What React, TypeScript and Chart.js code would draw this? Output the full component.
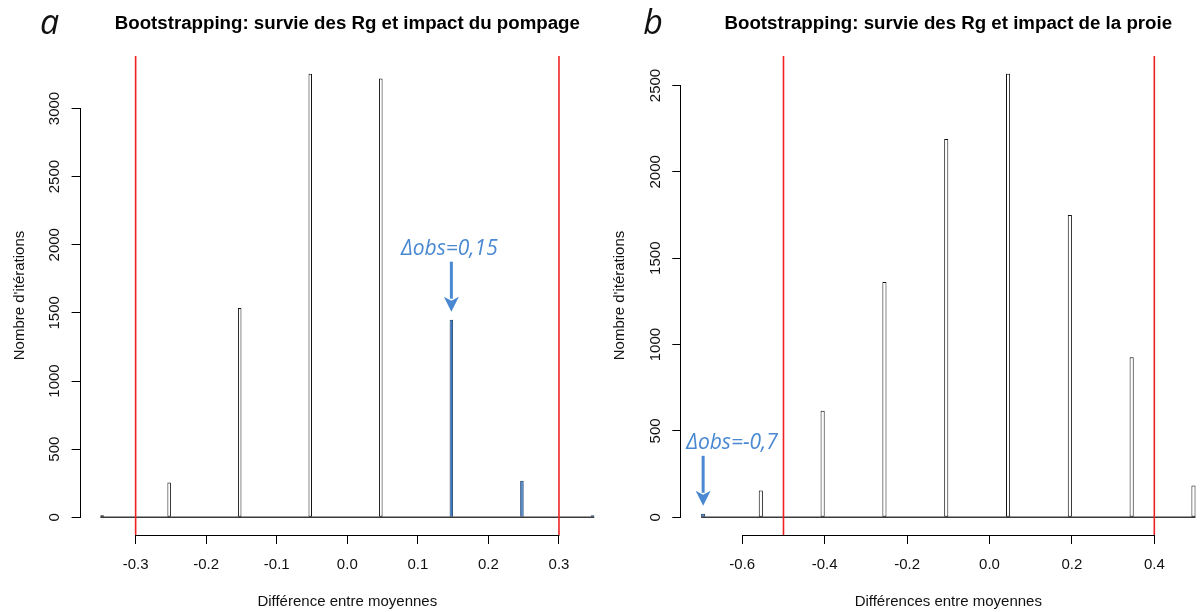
import React, { useEffect, useRef } from "react";
import { Chart, registerables } from "chart.js";

Chart.register(...registerables);
Chart.defaults.font.family = '"Liberation Sans", Arial, sans-serif';
Chart.defaults.color = "#111";

// ---------- Panel a data ----------
const titleA = "Bootstrapping: survie des Rg et impact du pompage";
const xTitleA = "Différence entre moyennes";
const yTitleA = "Nombre d'itérations";
const binLowerA = [-0.35, -0.255, -0.155, -0.055, 0.045, 0.145, 0.245, 0.345];
const countsA = [15, 255, 1535, 3255, 3220, 1450, 268, 15];
const highlightA = [false, false, false, false, false, true, true, true];
const binWidthA = 0.005;
const rangeA = [-0.35, 0.35];
const cutoffsA = [-0.3, 0.3];
const xTicksA = [-0.3, -0.2, -0.1, 0.0, 0.1, 0.2, 0.3];
const yTicksA = [0, 500, 1000, 1500, 2000, 2500, 3000];
const obsTextA = "Δobs=0,15";
const obsBinA = 5;

// ---------- Panel b data ----------
const titleB = "Bootstrapping: survie des Rg et impact de la proie";
const xTitleB = "Différences entre moyennes";
const yTitleB = "Nombre d'itérations";
const binLowerB = [-0.7, -0.56, -0.41, -0.26, -0.11, 0.04, 0.19, 0.34, 0.49];
const countsB = [20, 155, 617, 1362, 2190, 2568, 1750, 926, 184];
const highlightB = [true, false, false, false, false, false, false, false, false];
const binWidthB = 0.01;
const rangeB = [-0.7, 0.5];
const cutoffsB = [-0.5, 0.4];
const xTicksB = [-0.6, -0.4, -0.2, 0.0, 0.2, 0.4];
const yTicksB = [0, 500, 1000, 1500, 2000, 2500];
const obsTextB = "Δobs=-0,7";
const obsBinB = 0;

// ---------- styles / layout ----------
const BAR_BLUE = "#3a78c4";
const BAR_BLUE_EDGE = "#1f3f66";
const NOTE_BLUE = "#4a89d2";
const CUT_RED = "#ee2222";
const CANVAS_H = 612;
const PLOT_TOP = 56;
const PLOT_BOTTOM = 535;

type Panel = {
  letter: string;
  title: string;
  xTitle: string;
  yTitle: string;
  binLower: number[];
  counts: number[];
  highlight: boolean[];
  binWidth: number;
  range: number[];
  cutoffs: number[];
  xTicks: number[];
  yTicks: number[];
  obsText: string;
  obsBin: number;
  left: number;
  width: number;
  plotLeft: number;
  plotRight: number;
  letterX: number;
  noteAlign: CanvasTextAlign;
  noteDx: number;
};

const panelA: Panel = {
  letter: "a",
  title: titleA,
  xTitle: xTitleA,
  yTitle: yTitleA,
  binLower: binLowerA,
  counts: countsA,
  highlight: highlightA,
  binWidth: binWidthA,
  range: rangeA,
  cutoffs: cutoffsA,
  xTicks: xTicksA,
  yTicks: yTicksA,
  obsText: obsTextA,
  obsBin: obsBinA,
  left: 0,
  width: 615,
  plotLeft: 80.6,
  plotRight: 614,
  letterX: 49.5,
  noteAlign: "center",
  noteDx: -2,
};

const panelB: Panel = {
  letter: "b",
  title: titleB,
  xTitle: xTitleB,
  yTitle: yTitleB,
  binLower: binLowerB,
  counts: countsB,
  highlight: highlightB,
  binWidth: binWidthB,
  range: rangeB,
  cutoffs: cutoffsB,
  xTicks: xTicksB,
  yTicks: yTicksB,
  obsText: obsTextB,
  obsBin: obsBinB,
  left: 600,
  width: 620,
  plotLeft: 681.3,
  plotRight: 1215.3,
  letterX: 653,
  noteAlign: "left",
  noteDx: -17,
};

function makeChart(canvas: HTMLCanvasElement, p: Panel) {
  const centers = p.binLower.map((l) => l + p.binWidth / 2);
  const gaps = centers.slice(1).map((c, i) => c - centers[i]);
  const tickStep = p.xTicks[1] - p.xTicks[0];
  const minGap = Math.min(...gaps, tickStep);
  const span = p.range[1] - p.range[0];
  const xMin = p.range[0] - 0.04 * span;
  const xMax = p.range[1] + 0.04 * span;
  const yTop = Math.max(...p.counts);
  const yMin = -0.04 * yTop;
  const yMax = 1.04 * yTop;

  const decor = {
    id: "rDecor",
    afterDatasetsDraw(chart: any) {
      const ctx = chart.ctx as CanvasRenderingContext2D;
      const xs = chart.scales.x;
      const area = chart.chartArea;
      ctx.save();
      ctx.strokeStyle = CUT_RED;
      ctx.lineWidth = 1.6;
      p.cutoffs.forEach((c) => {
        const px = xs.getPixelForValue(c);
        ctx.beginPath();
        ctx.moveTo(px, area.top);
        ctx.lineTo(px, area.bottom);
        ctx.stroke();
      });
      ctx.restore();
    },
    afterDraw(chart: any) {
      const ctx = chart.ctx as CanvasRenderingContext2D;
      const xs = chart.scales.x;
      const ys = chart.scales.y;
      const area = chart.chartArea;
      ctx.save();
      // R-style axis lines spanning first..last tick
      ctx.strokeStyle = "#000";
      ctx.lineWidth = 1;
      ctx.beginPath();
      const by = Math.round(area.bottom) + 0.5;
      ctx.moveTo(xs.getPixelForValue(p.xTicks[0]), by);
      ctx.lineTo(xs.getPixelForValue(p.xTicks[p.xTicks.length - 1]) + 0.5, by);
      const lx = Math.round(area.left) - 0.5;
      ctx.moveTo(lx, ys.getPixelForValue(p.yTicks[0]) + 0.5);
      ctx.lineTo(lx, ys.getPixelForValue(p.yTicks[p.yTicks.length - 1]));
      ctx.stroke();

      // title
      ctx.fillStyle = "#000";
      ctx.font = 'bold 18.7px "Liberation Sans", Arial, sans-serif';
      ctx.textAlign = "center";
      ctx.textBaseline = "alphabetic";
      ctx.fillText(p.title, (area.left + area.right) / 2, 29);

      // panel letter
      ctx.font = 'italic 34px "Open Sans", sans-serif';
      ctx.fillStyle = "#111";
      ctx.fillText(p.letter, p.letterX - p.left, 34);

      // observed annotation arrow + text
      const ax = xs.getPixelForValue(centers[p.obsBin]);
      const tip = ys.getPixelForValue(p.counts[p.obsBin]) - 8;
      const len = 50;
      const headL = 15;
      const headW = 7.5;
      ctx.strokeStyle = NOTE_BLUE;
      ctx.fillStyle = NOTE_BLUE;
      ctx.lineWidth = 3;
      ctx.beginPath();
      ctx.moveTo(ax, tip - len);
      ctx.lineTo(ax, tip - headL + 2);
      ctx.stroke();
      ctx.beginPath();
      ctx.moveTo(ax - headW, tip - headL);
      ctx.lineTo(ax, tip - headL + 4);
      ctx.lineTo(ax + headW, tip - headL);
      ctx.lineTo(ax, tip);
      ctx.closePath();
      ctx.fill();
      ctx.font = 'italic 21px "Open Sans", sans-serif';
      ctx.textAlign = p.noteAlign;
      ctx.fillText(p.obsText, ax + p.noteDx, tip - len - 7);
      ctx.restore();
    },
  };

  const datasets: any[] = [
    {
      type: "line",
      data: [
        { x: p.range[0], y: 0 },
        { x: p.range[1], y: 0 },
      ],
      borderColor: "#3a3a3a",
      borderWidth: 1.3,
      pointRadius: 0,
      order: 3,
    },
    {
      type: "bar",
      data: centers.map((x, i) => ({ x, y: p.counts[i] })),
      backgroundColor: p.highlight.map((h) => (h ? BAR_BLUE : "#ffffff")),
      borderColor: p.highlight.map((h) => (h ? BAR_BLUE_EDGE : "#111111")),
      borderWidth: 1,
      borderSkipped: false,
      barPercentage: p.binWidth / minGap,
      categoryPercentage: 1,
      order: 2,
    },
  ];

  return new Chart(canvas, {
    type: "bar",
    data: { datasets },
    plugins: [decor],
    options: {
      animation: false,
      responsive: false,
      events: [],
      layout: {
        padding: {
          left: 0,
          top: PLOT_TOP,
          bottom: 0,
          right: p.left + p.width - p.plotRight,
        },
      },
      plugins: {
        legend: { display: false },
        tooltip: { enabled: false },
        title: { display: false },
      },
      scales: {
        x: {
          type: "linear",
          min: xMin,
          max: xMax,
          bounds: "data",
          offset: false,
          border: { display: false },
          grid: {
            display: true,
            offset: false,
            drawOnChartArea: false,
            drawTicks: true,
            tickLength: 9,
            color: "#000",
            lineWidth: 1,
          },
          ticks: {
            autoSkip: false,
            maxRotation: 0,
            minRotation: 0,
            padding: 12,
            color: "#111",
            font: { size: 15 },
            callback: (v: any) => Number(v).toFixed(1),
          },
          afterBuildTicks: (s: any) => {
            s.ticks = p.xTicks.map((v) => ({ value: v }));
          },
          afterFit: (s: any) => {
            s.height = CANVAS_H - PLOT_BOTTOM;
          },
          title: {
            display: true,
            text: p.xTitle,
            color: "#111",
            font: { size: 15 },
            padding: { top: 0, bottom: 1 },
          },
        },
        y: {
          type: "linear",
          min: yMin,
          max: yMax,
          bounds: "data",
          border: { display: false },
          grid: {
            display: true,
            drawOnChartArea: false,
            drawTicks: true,
            tickLength: 9,
            color: "#000",
            lineWidth: 1,
          },
          ticks: {
            autoSkip: false,
            minRotation: 90,
            maxRotation: 90,
            crossAlign: "center",
            padding: 0,
            color: "#111",
            font: { size: 15 },
            callback: (v: any) => String(v),
          },
          afterBuildTicks: (s: any) => {
            s.ticks = p.yTicks.map((v) => ({ value: v }));
          },
          afterFit: (s: any) => {
            s.width = p.plotLeft - p.left;
          },
          title: {
            display: true,
            text: p.yTitle,
            color: "#111",
            font: { size: 15 },
            padding: { top: 11, bottom: 0 },
          },
        },
      },
    } as any,
  });
}

export default function App() {
  const refA = useRef<HTMLCanvasElement>(null);
  const refB = useRef<HTMLCanvasElement>(null);
  useEffect(() => {
    const a = makeChart(refA.current!, panelA);
    const b = makeChart(refB.current!, panelB);
    return () => {
      a.destroy();
      b.destroy();
    };
  }, []);
  return (
    <div
      style={{
        position: "fixed",
        left: 0,
        top: 0,
        width: 1203,
        height: CANVAS_H,
        overflow: "hidden",
        background: "#fff",
      }}
    >
      <canvas
        ref={refA}
        width={panelA.width}
        height={CANVAS_H}
        style={{ position: "absolute", left: panelA.left, top: 0, width: panelA.width, height: CANVAS_H }}
      />
      <canvas
        ref={refB}
        width={panelB.width}
        height={CANVAS_H}
        style={{ position: "absolute", left: panelB.left, top: 0, width: panelB.width, height: CANVAS_H }}
      />
    </div>
  );
}
